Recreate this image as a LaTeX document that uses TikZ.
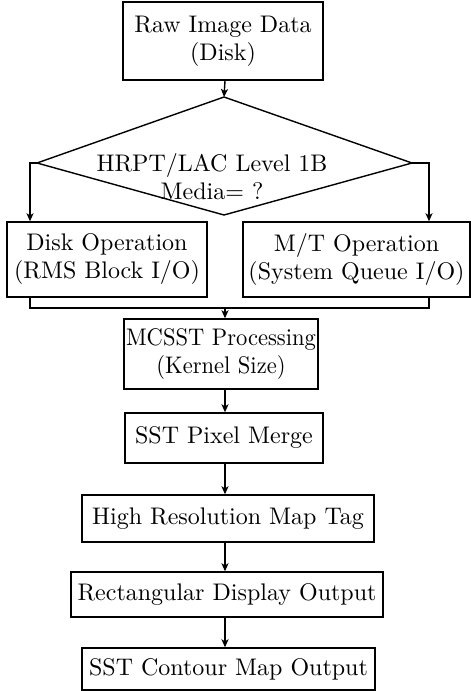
\documentclass[tikz,border=0pt]{standalone}
\usepackage{fontspec}
\setmainfont{lmroman10-regular}[Extension=.otf]
\usetikzlibrary{arrows.meta,calc}
\newcommand{\myfont}{\fontsize{24}{28}\selectfont}
\tikzset{
  box/.style={draw, line width=1.4pt, rectangle, align=center, inner sep=0pt,
    font=\myfont},
  lbl/.style={align=center, inner sep=0pt, font=\myfont},
  arr/.style={line width=1.4pt, -{Stealth[length=8pt,width=7pt,inset=2pt]}},
  ln/.style={line width=1.4pt}
}
\begin{document}
\begin{tikzpicture}[x=1pt,y=-1pt]
\useasboundingbox (0,0) rectangle (471,691);
\node[box, minimum width=200, minimum height=78] (raw) at (223,41) {Raw Image Data\\(Disk)};
% decision diamond
\coordinate (dT) at (224,97);
\coordinate (dW) at (37,163);
\coordinate (dE) at (412,163);
\coordinate (dB) at (224,215);
\draw[ln, line join=miter] (dT) -- (dE) -- (dB) -- (dW) -- cycle;
\node[lbl] (dectext) at (212,177) {HRPT/LAC Level 1B\\Media= ?};
\node[box, minimum width=200, minimum height=75] (disk) at (107,259.5) {Disk Operation\\(RMS Block I/O)};
\node[box, minimum width=227, minimum height=75] (mt) at (356.5,259.5) {M/T Operation\\(System Queue I/O)};
\node[box, minimum width=194, minimum height=70, font=\myfont\addfontfeatures{FakeStretch=0.94}] (mcsst) at (221,354) {MCSST Processing\\(Kernel Size)};
\node[box, minimum width=198, minimum height=50] (pix) at (224,438) {SST Pixel Merge};
\node[box, minimum width=292, minimum height=47] (hires) at (228,518.5) {High Resolution Map Tag};
\node[box, minimum width=312, minimum height=45] (rect) at (227,594.5) {Rectangular Display Output};
\node[box, minimum width=293, minimum height=42] (cont) at (228.5,669) {SST Contour Map Output};

\coordinate (dL) at (30,163);
\coordinate (dR) at (429,163);
\coordinate (mL) at (30,308);
\coordinate (mR) at (429,308);
\coordinate (mC) at (225,308);

\draw[arr] (raw.south -| mC) -- (dT);
\draw[arr] (dW) -- (dL) -- (dL |- disk.north);
\draw[arr] (dE) -- (dR) -- (dR |- mt.north);
\draw[ln] (mL |- disk.south) -- (mL) -- (mR) -- (mR |- mt.south);
\draw[arr] (mC) -- (mC |- mcsst.north);
\draw[arr] (mcsst.south -| mC) -- (mC |- pix.north);
\draw[arr] (pix.south -| mC) -- (mC |- hires.north);
\draw[arr] (hires.south -| mC) -- (mC |- rect.north);
\draw[arr] (rect.south -| mC) -- (mC |- cont.north);
\end{tikzpicture}
\end{document}
